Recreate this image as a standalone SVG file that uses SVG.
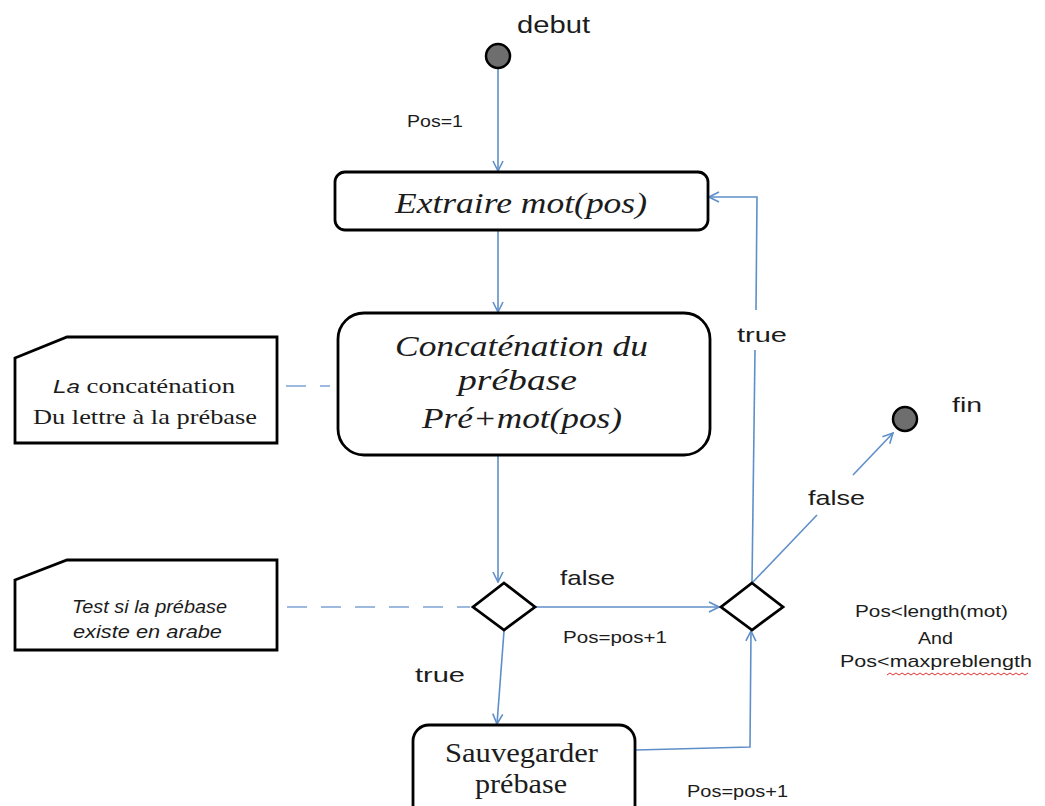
<svg xmlns="http://www.w3.org/2000/svg" width="1045" height="806" viewBox="0 0 1045 806">
  <style>
    .box { fill: #fff; stroke: #000; stroke-width: 2.8; }
    .note { fill: #fff; stroke: #000; stroke-width: 2.8; stroke-linejoin: miter; }
    .dot { fill: #6e6e6e; stroke: #000; stroke-width: 2.5; }
    .edge { fill: none; stroke: #5f8fc9; stroke-width: 1.6; }
    .dash { fill: none; stroke: #7fa3d3; stroke-width: 1.6; stroke-dasharray: 20 14; }
    .sans { font-family: "Liberation Sans", Arial, sans-serif; fill: #1c1c1c; }
    .serif { font-family: "Liberation Serif", "Times New Roman", serif; fill: #1c1c1c; }
    .it { font-style: italic; }
  </style>
  <defs>
    <marker id="open" viewBox="0 0 12 12" refX="11" refY="6" markerWidth="12" markerHeight="12" markerUnits="userSpaceOnUse" orient="auto">
      <path d="M1,1 L11,6 L1,11" fill="none" stroke="#5f8fc9" stroke-width="1.6"/>
    </marker>
  </defs>

  <!-- connectors -->
  <g id="connectors">
    <line class="edge" x1="498" y1="69" x2="498" y2="171" marker-end="url(#open)"/>
    <line class="edge" x1="498" y1="231" x2="498" y2="312" marker-end="url(#open)"/>
    <line class="edge" x1="498" y1="456" x2="498" y2="582" marker-end="url(#open)"/>
    <line class="edge" x1="536" y1="607" x2="719" y2="607" marker-end="url(#open)"/>
    <line class="edge" x1="504" y1="631" x2="497" y2="724" marker-end="url(#open)"/>
    <polyline class="edge" points="636,750 750,747 751,631" marker-end="url(#open)"/>
    <!-- loop back to Extraire (label gap around "true") -->
    <polyline class="edge" points="752,583 755,350"/>
    <polyline class="edge" points="756,310 757,197 709,197" marker-end="url(#open)"/>
    <!-- exit to fin (label gap around "false") -->
    <line class="edge" x1="752" y1="583" x2="817" y2="515"/>
    <line class="edge" x1="853" y1="475" x2="893" y2="433" marker-end="url(#open)"/>
    <!-- note anchors -->
    <line class="dash" x1="286" y1="386" x2="330" y2="386"/>
    <line class="dash" x1="287" y1="607" x2="470" y2="607"/>
  </g>

  <g id="debut">
    <circle class="dot" cx="498" cy="56" r="12"/>
    <text class="sans" x="517" y="33" font-size="23" textLength="73" lengthAdjust="spacingAndGlyphs">debut</text>
  </g>
  <text class="sans" x="407" y="127" font-size="16" textLength="56" lengthAdjust="spacingAndGlyphs">Pos=1</text>

  <g id="extraire">
    <rect class="box" x="335" y="172" width="373" height="58" rx="10"/>
    <text class="serif it" x="395" y="213" font-size="29" textLength="252" lengthAdjust="spacingAndGlyphs">Extraire mot(pos)</text>
  </g>

  <g id="concatenation">
    <rect class="box" x="338" y="313" width="372" height="142" rx="26"/>
    <text class="serif it" x="395" y="356" font-size="29" textLength="253" lengthAdjust="spacingAndGlyphs">Concaténation du</text>
    <text class="serif it" x="458" y="390" font-size="29" textLength="119" lengthAdjust="spacingAndGlyphs">prébase</text>
    <text class="serif it" x="422" y="428" font-size="29" textLength="200" lengthAdjust="spacingAndGlyphs">Pré+mot(pos)</text>
  </g>

  <g id="note-concat">
    <polygon class="note" points="15,358 67,337 277,337 277,443 15,443"/>
    <text class="serif" x="53" y="393" font-size="21" textLength="182" lengthAdjust="spacingAndGlyphs"><tspan class="sans it" font-size="19">La</tspan> concaténation</text>
    <text class="serif" x="33" y="424" font-size="21" textLength="224" lengthAdjust="spacingAndGlyphs">Du lettre  à la prébase</text>
  </g>

  <g id="note-test">
    <polygon class="note" points="15,580 67,560 277,560 277,650 15,650"/>
    <text class="sans it" x="72" y="613" font-size="18" textLength="155" lengthAdjust="spacingAndGlyphs">Test si la prébase</text>
    <text class="sans it" x="73" y="638" font-size="18" textLength="149" lengthAdjust="spacingAndGlyphs">existe en arabe</text>
  </g>

  <g id="decision-test">
    <polygon class="box" points="504,583 535,607 504,630 473,607"/>
  </g>
  <text class="sans" x="560" y="585" font-size="21" textLength="55" lengthAdjust="spacingAndGlyphs">false</text>
  <text class="sans" x="563" y="643" font-size="16" textLength="104" lengthAdjust="spacingAndGlyphs">Pos=pos+1</text>
  <text class="sans" x="415" y="682" font-size="21" textLength="50" lengthAdjust="spacingAndGlyphs">true</text>

  <g id="decision-length">
    <polygon class="box" points="752,583 783,607 752,630 721,607"/>
  </g>
  <text class="sans" x="737" y="342" font-size="21" textLength="50" lengthAdjust="spacingAndGlyphs">true</text>
  <text class="sans" x="808" y="505" font-size="21" textLength="57" lengthAdjust="spacingAndGlyphs">false</text>

  <g id="condition">
    <text class="sans" x="855" y="617" font-size="17" textLength="153" lengthAdjust="spacingAndGlyphs">Pos&lt;length(mot)</text>
    <text class="sans" x="918" y="644" font-size="17" textLength="35" lengthAdjust="spacingAndGlyphs">And</text>
    <text class="sans" x="840" y="667" font-size="17" textLength="192" lengthAdjust="spacingAndGlyphs">Pos&lt;maxpreblength</text>
    <path d="M887,675 l3,-2 l3,2 l3,-2 l3,2 l3,-2 l3,2 l3,-2 l3,2 l3,-2 l3,2 l3,-2 l3,2 l3,-2 l3,2 l3,-2 l3,2 l3,-2 l3,2 l3,-2 l3,2 l3,-2 l3,2 l3,-2 l3,2 l3,-2 l3,2 l3,-2 l3,2 l3,-2 l3,2 l3,-2 l3,2 l3,-2 l3,2 l3,-2 l3,2 l3,-2 l3,2 l3,-2 l3,2 l3,-2 l3,2 l3,-2 l3,2 l3,-2 l3,2 l3,-2" fill="none" stroke="#e03030" stroke-width="1"/>
  </g>

  <g id="fin">
    <circle class="dot" cx="905" cy="419" r="12"/>
    <text class="sans" x="952" y="412" font-size="21" textLength="30" lengthAdjust="spacingAndGlyphs">fin</text>
  </g>

  <g id="sauvegarder">
    <rect class="box" x="413" y="725" width="222" height="100" rx="16"/>
    <text class="serif" x="445" y="762" font-size="27" textLength="153" lengthAdjust="spacingAndGlyphs">Sauvegarder</text>
    <text class="serif" x="475" y="793" font-size="27" textLength="92" lengthAdjust="spacingAndGlyphs">prébase</text>
  </g>
  <text class="sans" x="687" y="797" font-size="16" textLength="101" lengthAdjust="spacingAndGlyphs">Pos=pos+1</text>
</svg>
